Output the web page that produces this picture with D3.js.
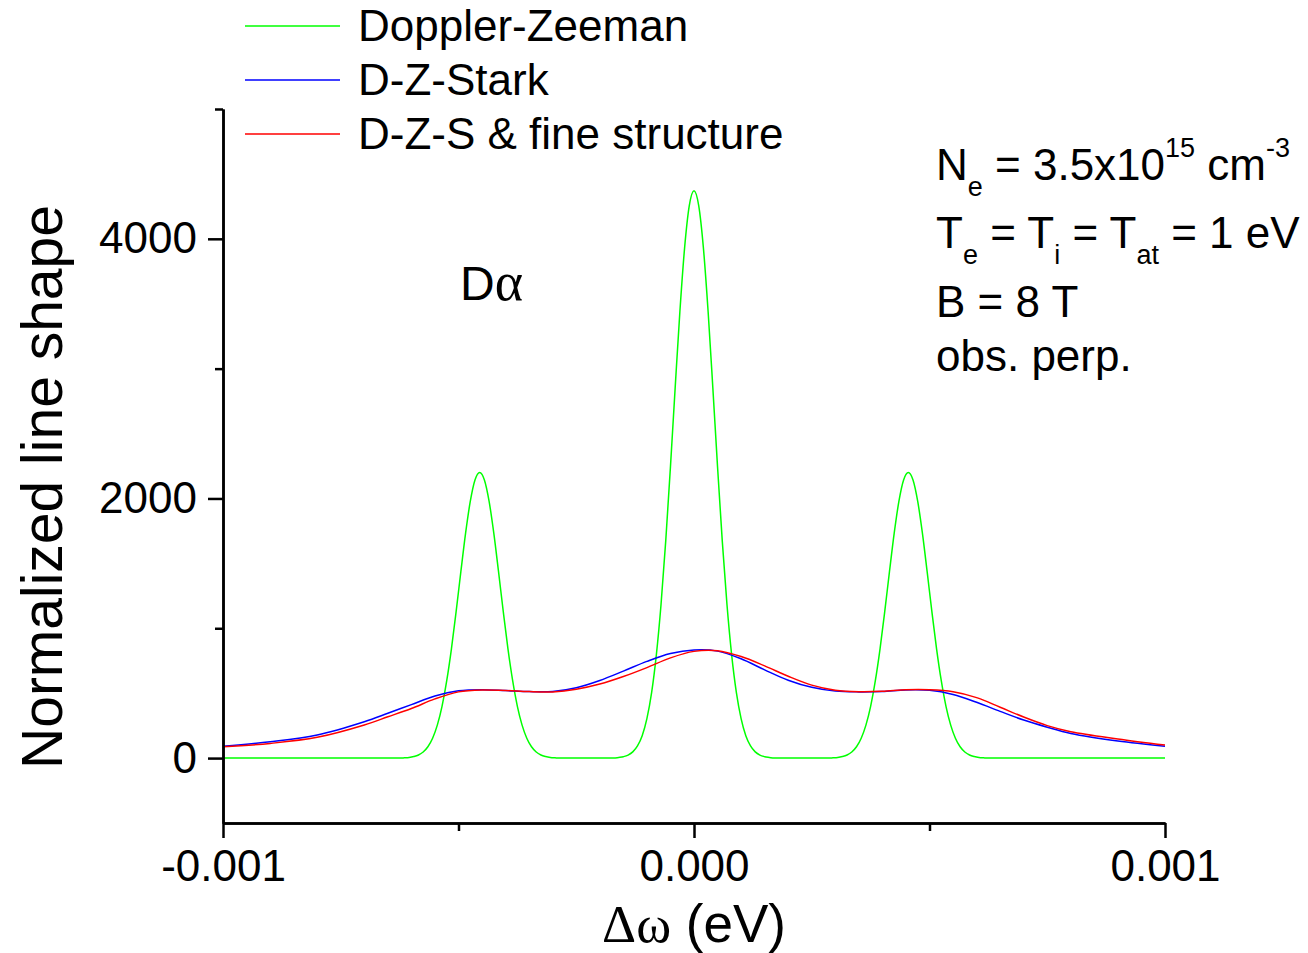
<!DOCTYPE html>
<html>
<head>
<meta charset="utf-8">
<script src="https://cdn.jsdelivr.net/npm/d3@7"></script>
<style>
  body { margin: 0; background: #fff; }
  text { font-family: "Liberation Sans", Arial, sans-serif; fill: #000; }
</style>
</head>
<body>
<script>

// x values are in units of 1e-5 eV
var xUnit = 1e-5;

// Doppler-Zeeman (three narrow components)
var dzX = [-100, -62.5,
  -61.5, -60.5, -59.5, -58.5, -57.5, -56.5, -55.5, -54.5, -53.5, -52.5, -51.5, -50.5, -49.5, -48.5, -47.5, -46.5,
  -45.5, -44.5, -43.5, -42.5, -41.5, -40.5, -39.5, -38.5, -37.5, -36.5, -35.5, -34.5, -33.5, -32.5, -31.5, -30.5, -29.5,
  -28.5, -17,
  -16, -15, -14, -13, -12, -11, -10, -9, -8, -7, -6, -5, -4, -3, -2, -1,
  0, 1, 2, 3, 4, 5, 6, 7, 8, 9, 10, 11, 12, 13, 14, 15, 16,
  17, 28.5,
  29.5, 30.5, 31.5, 32.5, 33.5, 34.5, 35.5, 36.5, 37.5, 38.5, 39.5, 40.5, 41.5, 42.5, 43.5, 44.5,
  45.5, 46.5, 47.5, 48.5, 49.5, 50.5, 51.5, 52.5, 53.5, 54.5, 55.5, 56.5, 57.5, 58.5, 59.5, 60.5, 61.5,
  62.5, 100];
var dzY = [0, 0,
  2, 5, 12, 24, 47, 87, 153, 254, 399, 596, 842, 1130, 1436, 1731, 1977, 2142,
  2200, 2142, 1977, 1731, 1436, 1130, 842, 596, 399, 254, 153, 87, 47, 24, 12, 5, 2,
  0, 0,
  5, 11, 23, 48, 94, 173, 304, 504, 793, 1183, 1673, 2243, 2852, 3438, 3928, 4255,
  4370, 4255, 3928, 3438, 2852, 2243, 1673, 1183, 793, 504, 304, 173, 94, 48, 23, 11, 5,
  0, 0,
  2, 5, 12, 24, 47, 87, 153, 254, 399, 596, 842, 1130, 1436, 1731, 1977, 2142,
  2200, 2142, 1977, 1731, 1436, 1130, 842, 596, 399, 254, 153, 87, 47, 24, 12, 5, 2,
  0, 0];

// Stark broadened profiles, read on a common grid
var starkX = [-100, -90, -80, -70, -65, -60, -55, -50, -45, -40, -35, -30, -25, -20, -15, -10, -5,
  0, 5, 10, 15, 20, 25, 30, 35, 40, 45, 50, 55, 60, 65, 70, 75, 80, 90, 100];
var dzsY = [92, 126, 178, 280, 345, 412, 478, 518, 527, 520, 512, 513, 542, 598, 670, 745, 805,
  832, 824, 765, 680, 600, 545, 516, 510, 513, 525, 522, 490, 430, 360, 293, 238, 190, 132, 92];
var fineY = [87, 113, 160, 255, 318, 382, 456, 510, 525, 521, 512, 510, 530, 570, 628, 697, 772,
  822, 827, 782, 710, 630, 562, 523, 511, 514, 526, 526, 511, 466, 392, 316, 250, 203, 147, 100];

var seriesNames = ["Doppler-Zeeman", "D-Z-Stark", "D-Z-S & fine structure"];
var seriesColors = ["#00ff00", "#0000ff", "#ff0000"];

var xTicks = [-0.001, 0, 0.001];
var xTickLabels = ["-0.001", "0.000", "0.001"];
var xMinorTicks = [-0.0005, 0.0005];
var yTicks = [0, 2000, 4000];
var yTickLabels = ["0", "2000", "4000"];
var yMinorTicks = [1000, 3000, 5000];

var width = 1308, height = 953;

var svg = d3.select("body").append("svg")
    .attr("width", width)
    .attr("height", height);

var x = d3.scaleLinear().domain([-0.001, 0.001]).range([223, 1165]);
var y = d3.scaleLinear().domain([-500, 5000]).range([823, 109]);

function buildData(xs, ys) {
  return xs.map(function(v, i) { return {x: v * xUnit, y: ys[i]}; });
}

var sharpLine = d3.line()
    .x(function(d) { return x(d.x); })
    .y(function(d) { return y(d.y); })
    .curve(d3.curveMonotoneX);
var smoothLine = d3.line()
    .x(function(d) { return x(d.x); })
    .y(function(d) { return y(d.y); })
    .curve(d3.curveCatmullRom.alpha(0.5));

var series = [buildData(dzX, dzY), buildData(starkX, dzsY), buildData(starkX, fineY)];

series.forEach(function(data, i) {
  svg.append("path")
      .datum(data)
      .attr("fill", "none")
      .attr("stroke", seriesColors[i])
      .attr("stroke-width", 1.5)
      .attr("d", i === 0 ? sharpLine : smoothLine);
});

// axes (left and bottom only)
function styleAxis(g) {
  g.selectAll("path, line").attr("stroke", "#000").attr("stroke-width", 2.5);
  g.selectAll("text")
      .attr("fill", "#000")
      .style("font-size", "44px")
      .style("font-family", "'Liberation Sans', Arial, sans-serif");
}

svg.append("g")
    .attr("transform", "translate(0," + y(-500) + ")")
    .call(d3.axisBottom(x).tickValues(xMinorTicks).tickSize(8).tickSizeOuter(0).tickFormat(""))
    .call(styleAxis);
svg.append("g")
    .attr("transform", "translate(0," + y(-500) + ")")
    .call(d3.axisBottom(x).tickValues(xTicks).tickSize(15).tickSizeOuter(0).tickPadding(12)
      .tickFormat(function(d, i) { return xTickLabels[i]; }))
    .call(styleAxis);

svg.append("g")
    .attr("transform", "translate(" + x(-0.001) + ",0)")
    .call(d3.axisLeft(y).tickValues(yMinorTicks).tickSize(8).tickSizeOuter(0).tickFormat(""))
    .call(styleAxis);
svg.append("g")
    .attr("transform", "translate(" + x(-0.001) + ",0)")
    .call(d3.axisLeft(y).tickValues(yTicks).tickSize(15).tickSizeOuter(0).tickPadding(11)
      .tickFormat(function(d, i) { return yTickLabels[i]; }))
    .call(styleAxis);

// axis titles
svg.append("text")
    .attr("transform", "translate(62," + 487 + ") rotate(-90)")
    .attr("text-anchor", "middle")
    .style("font-size", "57px")
    .text("Normalized line shape");

var xt = svg.append("text")
    .attr("x", 694)
    .attr("y", 942)
    .attr("text-anchor", "middle")
    .style("font-size", "53px");
xt.append("tspan").style("font-family", "'Liberation Serif', serif").text("\u0394\u03c9");
xt.append("tspan").text(" (eV)");

// line label
var dl = svg.append("text").attr("x", 460).attr("y", 300).style("font-size", "48px");
dl.append("tspan").text("D");
dl.append("tspan").style("font-family", "'Liberation Serif', serif").style("font-size", "54px").text("\u03b1");

// legend
var legend = svg.append("g");
seriesNames.forEach(function(name, i) {
  var ly = 26 + i * 54;
  legend.append("line")
      .attr("x1", 245).attr("x2", 340)
      .attr("y1", ly).attr("y2", ly)
      .attr("stroke", seriesColors[i])
      .attr("stroke-width", 1.5);
  legend.append("text")
      .attr("x", 358)
      .attr("y", ly + 15)
      .style("font-size", "44px")
      .text(name);
});

// plasma parameters
var small = "27px";
function addRuns(yPos, runs) {
  var t = svg.append("text")
      .attr("x", 936)
      .attr("y", yPos)
      .style("font-size", "44px")
      .style("white-space", "pre");
  var shift = 0;
  runs.forEach(function(r) {
    var target = r[1] === "sub" ? 16 : (r[1] === "sup" ? -23 : 0);
    t.append("tspan")
        .attr("dy", target - shift)
        .style("font-size", r[1] ? small : "44px")
        .text(r[0]);
    shift = target;
  });
}

addRuns(180, [["N"], ["e", "sub"], [" = 3.5x10"], ["15", "sup"], [" cm"], ["-3", "sup"]]);
addRuns(248, [["T"], ["e", "sub"], [" = T"], ["i", "sub"], [" = T"], ["at", "sub"], [" = 1 eV"]]);
addRuns(317, [["B = 8 T"]]);
addRuns(371, [["obs. perp."]]);

</script>
</body>
</html>
